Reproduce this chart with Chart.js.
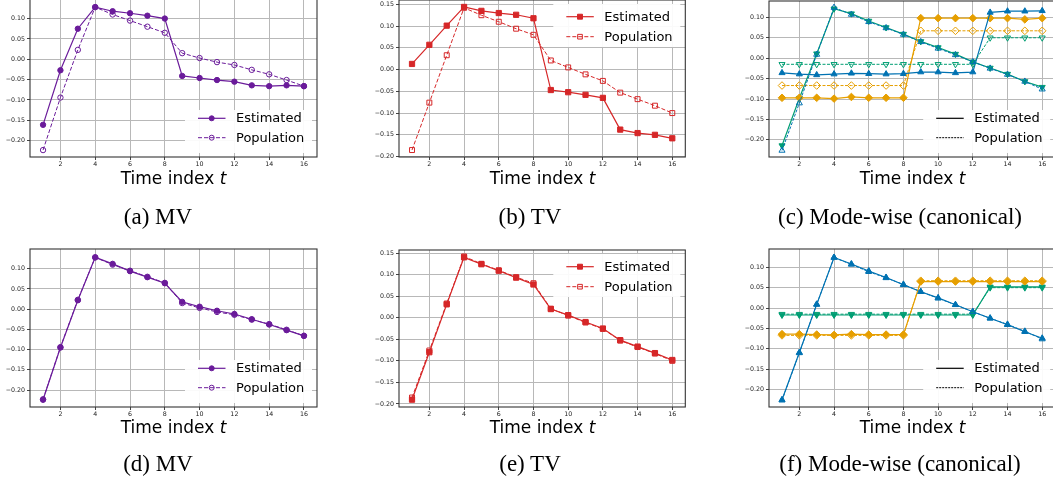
<!DOCTYPE html>
<html><head><meta charset="utf-8">
<script src="https://cdn.jsdelivr.net/npm/chart.js"></script>
<style>
html,body{margin:0;padding:0;background:#fff;}
body{width:1053px;height:484px;position:relative;overflow:hidden;}
canvas{position:absolute;}
.xt{position:absolute;width:300px;text-align:center;font-family:'DejaVu Sans';font-size:17px;line-height:1;color:#000;white-space:nowrap;}
.cap{position:absolute;width:400px;text-align:center;font-family:'Liberation Serif';font-size:23px;line-height:1;color:#000;white-space:nowrap;}
</style></head><body>
<script>
// ---------- data ----------
const timeIndex = [1,2,3,4,5,6,7,8,9,10,11,12,13,14,15,16];
const xTickValues = [2,4,6,8,10,12,14,16];
const yTickValues = [-0.20,-0.15,-0.10,-0.05,0.00,0.05,0.10,0.15];

// (a) MV
const mvEstimatedA = [-0.161,-0.027,0.075,0.128,0.118,0.113,0.107,0.100,-0.041,-0.046,-0.051,-0.055,-0.064,-0.066,-0.064,-0.066];
const mvPopulation = [-0.223,-0.094,0.023,0.128,0.110,0.095,0.080,0.065,0.015,0.003,-0.007,-0.014,-0.026,-0.037,-0.051,-0.066];
// (b) TV
const tvEstimatedB = [0.013,0.057,0.101,0.144,0.135,0.130,0.126,0.118,-0.047,-0.052,-0.058,-0.065,-0.138,-0.146,-0.150,-0.158];
const tvPopulation = [-0.185,-0.076,0.033,0.142,0.125,0.110,0.094,0.080,0.021,0.005,-0.011,-0.026,-0.053,-0.068,-0.083,-0.100];
// (d) MV
const mvEstimatedD = [-0.224,-0.095,0.022,0.128,0.112,0.094,0.079,0.064,0.018,0.006,-0.004,-0.012,-0.025,-0.038,-0.052,-0.066];
// (e) TV
const tvEstimatedE = [-0.190,-0.080,0.031,0.140,0.124,0.109,0.093,0.077,0.020,0.006,-0.010,-0.025,-0.052,-0.067,-0.082,-0.098];
// Mode-wise population (shared by c and f)
const popBlue   = [-0.226,-0.110,0.009,0.124,0.107,0.089,0.074,0.058,0.040,0.024,0.008,-0.009,-0.025,-0.040,-0.057,-0.076];
const popOrange = [-0.067,-0.067,-0.067,-0.067,-0.067,-0.067,-0.067,-0.067,0.067,0.067,0.067,0.067,0.067,0.067,0.067,0.067];
const popGreen  = [-0.015,-0.015,-0.015,-0.015,-0.015,-0.015,-0.015,-0.015,-0.015,-0.015,-0.015,-0.015,0.050,0.050,0.050,0.050];
// (c) Mode-wise estimated
const estBlueC   = [-0.036,-0.039,-0.041,-0.039,-0.037,-0.038,-0.039,-0.038,-0.034,-0.034,-0.036,-0.034,0.112,0.115,0.115,0.116];
const estOrangeC = [-0.097,-0.097,-0.097,-0.099,-0.095,-0.097,-0.097,-0.097,0.098,0.098,0.098,0.098,0.098,0.098,0.095,0.098];
const estGreenC  = [-0.214,-0.098,0.011,0.121,0.109,0.091,0.075,0.059,0.041,0.026,0.010,-0.009,-0.024,-0.039,-0.057,-0.071];
// (f) Mode-wise estimated
const estBlueF   = [-0.225,-0.109,0.009,0.124,0.108,0.091,0.075,0.057,0.040,0.025,0.008,-0.009,-0.025,-0.041,-0.058,-0.074];
const estOrangeF = [-0.064,-0.064,-0.065,-0.066,-0.064,-0.065,-0.065,-0.065,0.065,0.065,0.065,0.065,0.065,0.065,0.065,0.065];
const estGreenF  = [-0.017,-0.017,-0.017,-0.017,-0.017,-0.017,-0.017,-0.017,-0.017,-0.017,-0.017,-0.017,0.052,0.052,0.052,0.052];

// ---------- styling ----------
const PURPLE = '#6a1b9a', RED = '#d62728', BLUE = '#0072B2', ORANGE = '#E69F00', GREEN = '#009E73';
const NONE = 'rgba(0,0,0,0)';

function pts(arr){ return timeIndex.map((t,i)=>({x:t, y:arr[i]})); }
function ds(label, arr, color, o){
  return Object.assign({
    label, data: pts(arr), borderColor: color, backgroundColor: color,
    pointBackgroundColor: color, pointBorderColor: color,
    borderWidth: 1.2, pointBorderWidth: 1, pointRadius: 3, pointHoverRadius: 3,
    pointStyle: 'circle', fill: false, tension: 0, borderDash: []
  }, o||{});
}
function fmt(v){ if (Math.abs(v) < 1e-9) v = 0; const s = v.toFixed(2); return s.replace('-', '\u2212'); }

const framePlugin = {
  id: 'frameLegend',
  afterDatasetsDraw(chart){
    const ca = chart.chartArea, ctx = chart.ctx;
    ctx.save(); ctx.strokeStyle = '#333'; ctx.lineWidth = 1.1;
    ctx.strokeRect(ca.left, ca.top, ca.right - ca.left, ca.bottom - ca.top);
    ctx.restore();
  },
  afterDraw(chart){
    const o = chart.options.plugins.boxLegend; if (!o) return;
    const ca = chart.chartArea, ctx = chart.ctx;
    const R = ca.right, B = ca.bottom, T = ca.top;
    let box, rows;
    if (o.pos === 'lr'){ box = [R-132, B-47, 127, 43]; rows = [B-38.7, B-19.3]; }
    else { box = [R-132, T+4, 127, 43]; rows = [T+16.7, T+36.7]; }
    ctx.save();
    ctx.fillStyle = 'rgba(255,255,255,0.92)';
    ctx.fillRect(box[0], box[1], box[2], box[3]);
    o.items.forEach((it, i) => {
      const y = rows[i];
      ctx.strokeStyle = it.color; ctx.lineWidth = it.width || 1.2;
      ctx.setLineDash(it.dash || []);
      ctx.beginPath(); ctx.moveTo(R-119, y); ctx.lineTo(R-91.5, y); ctx.stroke();
      ctx.setLineDash([]);
      if (it.marker){
        ctx.fillStyle = it.fill; ctx.strokeStyle = it.color; ctx.lineWidth = 1;
        const m = {pointStyle: it.marker, radius: it.radius, rotation: 0, borderWidth: 1};
        if (Chart.helpers && Chart.helpers.drawPoint) Chart.helpers.drawPoint(ctx, m, R-105.3, y);
        else { ctx.beginPath(); ctx.arc(R-105.3, y, it.radius, 0, Math.PI*2); ctx.fill(); ctx.stroke(); }
      }
      ctx.fillStyle = '#000'; ctx.font = '13px "DejaVu Sans"'; ctx.textBaseline = 'middle'; ctx.textAlign = 'left';
      ctx.fillText(it.label, R-81, y+0.5);
    });
    ctx.restore();
  }
};

const tickFont = {family: 'DejaVu Sans', size: 6.3};
function makePanel(p){
  const padTop = 6, padRight = 4, yW = 30, xH = 20;
  const c = document.createElement('canvas');
  const w = (p.R - p.L) + yW + padRight, h = (p.B - p.T) + padTop + xH;
  c.width = w; c.height = h;
  c.style.left = (p.L - yW) + 'px'; c.style.top = (p.T - padTop) + 'px';
  c.style.width = w + 'px'; c.style.height = h + 'px';
  document.body.appendChild(c);
  new Chart(c.getContext('2d'), {
    type: 'line',
    data: { datasets: p.datasets },
    plugins: [framePlugin],
    options: {
      responsive: false, animation: false, devicePixelRatio: 1,
      layout: { padding: { left: 0, top: padTop, right: padRight, bottom: 0 } },
      plugins: { legend: { display: false }, tooltip: { enabled: false }, boxLegend: p.legend },
      scales: {
        x: {
          type: 'linear', min: 0.25, max: 16.75, bounds: 'data',
          afterBuildTicks: s => { s.ticks = xTickValues.map(v => ({value: v})); },
          afterFit: s => { s.height = xH; },
          ticks: { font: tickFont, color: '#222', padding: 1, maxRotation: 0, autoSkip: false, callback: v => String(v) },
          grid: { color: '#b8b8b8', lineWidth: 1, tickLength: 3, tickColor: '#444', drawTicks: true },
          border: { display: false }
        },
        y: {
          type: 'linear', min: p.ymin, max: p.ymax, bounds: 'data',
          afterBuildTicks: s => { s.ticks = yTickValues.filter(v => v >= p.ymin - 1e-9 && v <= p.ymax + 1e-9).map(v => ({value: v})); },
          afterFit: s => { s.width = yW; },
          ticks: { font: tickFont, color: '#222', padding: 2, autoSkip: false, callback: v => fmt(v) },
          grid: { color: '#b8b8b8', lineWidth: 1, tickLength: 3, tickColor: '#444', drawTicks: true },
          border: { display: false }
        }
      }
    }
  });
  const cx = (p.L + p.R) / 2;
  const xt = document.createElement('div'); xt.className = 'xt';
  xt.innerHTML = 'Time index <i>t</i>';
  xt.style.left = (cx - 150) + 'px'; xt.style.top = p.titleTop + 'px';
  document.body.appendChild(xt);
  const cp = document.createElement('div'); cp.className = 'cap';
  cp.textContent = p.caption;
  cp.style.left = (p.capX - 200) + 'px'; cp.style.top = p.capTop + 'px';
  document.body.appendChild(cp);
}

const mvEst = (arr) => ds('Estimated', arr, PURPLE, {pointStyle: 'circle', pointRadius: 2.7});
const mvPop = (arr) => ds('Population', arr, PURPLE, {pointStyle: 'circle', pointRadius: 2.7, pointBackgroundColor: NONE, borderDash: [4,2], borderWidth: 1});
const tvEst = (arr) => ds('Estimated', arr, RED, {pointStyle: 'rect', pointRadius: 3.7});
const tvPop = (arr) => ds('Population', arr, RED, {pointStyle: 'rect', pointRadius: 3.5, pointBackgroundColor: NONE, borderDash: [4,2], borderWidth: 1});
const mEst = (arr, color, style, rot, r) => ds('Estimated', arr, color, {pointStyle: style, pointRotation: rot, pointRadius: r});
const mPop = (arr, color, style, rot, r) => ds('Population', arr, color, {pointStyle: style, pointRotation: rot, pointRadius: r, pointBackgroundColor: NONE, borderDash: [3,1.5], borderWidth: 1});

const legMV = [
  {label: 'Estimated', color: PURPLE, marker: 'circle', radius: 2.5, fill: PURPLE},
  {label: 'Population', color: PURPLE, marker: 'circle', radius: 2.5, fill: NONE, dash: [4,2], width: 1}
];
const legTV = [
  {label: 'Estimated', color: RED, marker: 'rect', radius: 3.5, fill: RED},
  {label: 'Population', color: RED, marker: 'rect', radius: 3.3, fill: NONE, dash: [4,2], width: 1}
];
const legMode = [
  {label: 'Estimated', color: '#000', width: 1.2},
  {label: 'Population', color: '#000', dash: [2,1], width: 1}
];

makePanel({L: 30, R: 317, T: -1, B: 157, ymin: -0.240, ymax: 0.148,
  datasets: [mvEst(mvEstimatedA), mvPop(mvPopulation)], legend: {pos: 'lr', items: legMV},
  titleTop: 170, caption: '(a) MV', capX: 158, capTop: 204.7});
makePanel({L: 399, R: 686, T: 0, B: 157, ymin: -0.201, ymax: 0.160,
  datasets: [tvEst(tvEstimatedB), tvPop(tvPopulation)], legend: {pos: 'ur', items: legTV},
  titleTop: 170, caption: '(b) TV', capX: 530, capTop: 204.7});
makePanel({L: 769, R: 1056, T: 1, B: 157, ymin: -0.242, ymax: 0.140,
  datasets: [
    mPop(popBlue, BLUE, 'triangle', 0, 3.5), mPop(popOrange, ORANGE, 'rectRot', 0, 3.8), mPop(popGreen, GREEN, 'triangle', 180, 3.5),
    mEst(estBlueC, BLUE, 'triangle', 0, 3.5), mEst(estOrangeC, ORANGE, 'rectRot', 0, 3.8), mEst(estGreenC, GREEN, 'triangle', 180, 3.5)
  ], legend: {pos: 'lr', items: legMode},
  titleTop: 170, caption: '(c) Mode-wise (canonical)', capX: 900, capTop: 204.7});
makePanel({L: 30, R: 317, T: 249, B: 407, ymin: -0.242, ymax: 0.1487,
  datasets: [mvEst(mvEstimatedD), mvPop(mvPopulation)], legend: {pos: 'lr', items: legMV},
  titleTop: 418.5, caption: '(d) MV', capX: 158, capTop: 452});
makePanel({L: 399, R: 686, T: 250, B: 407, ymin: -0.207, ymax: 0.157,
  datasets: [tvEst(tvEstimatedE), tvPop(tvPopulation)], legend: {pos: 'ur', items: legTV},
  titleTop: 418.5, caption: '(e) TV', capX: 530, capTop: 452});
makePanel({L: 769, R: 1056, T: 249, B: 407, ymin: -0.2426, ymax: 0.1448,
  datasets: [
    mPop(popBlue, BLUE, 'triangle', 0, 3.5), mPop(popOrange, ORANGE, 'rectRot', 0, 3.8), mPop(popGreen, GREEN, 'triangle', 180, 3.5),
    mEst(estBlueF, BLUE, 'triangle', 0, 3.5), mEst(estOrangeF, ORANGE, 'rectRot', 0, 3.8), mEst(estGreenF, GREEN, 'triangle', 180, 3.5)
  ], legend: {pos: 'lr', items: legMode},
  titleTop: 418.5, caption: '(f) Mode-wise (canonical)', capX: 900, capTop: 452});
</script>
</body></html>
